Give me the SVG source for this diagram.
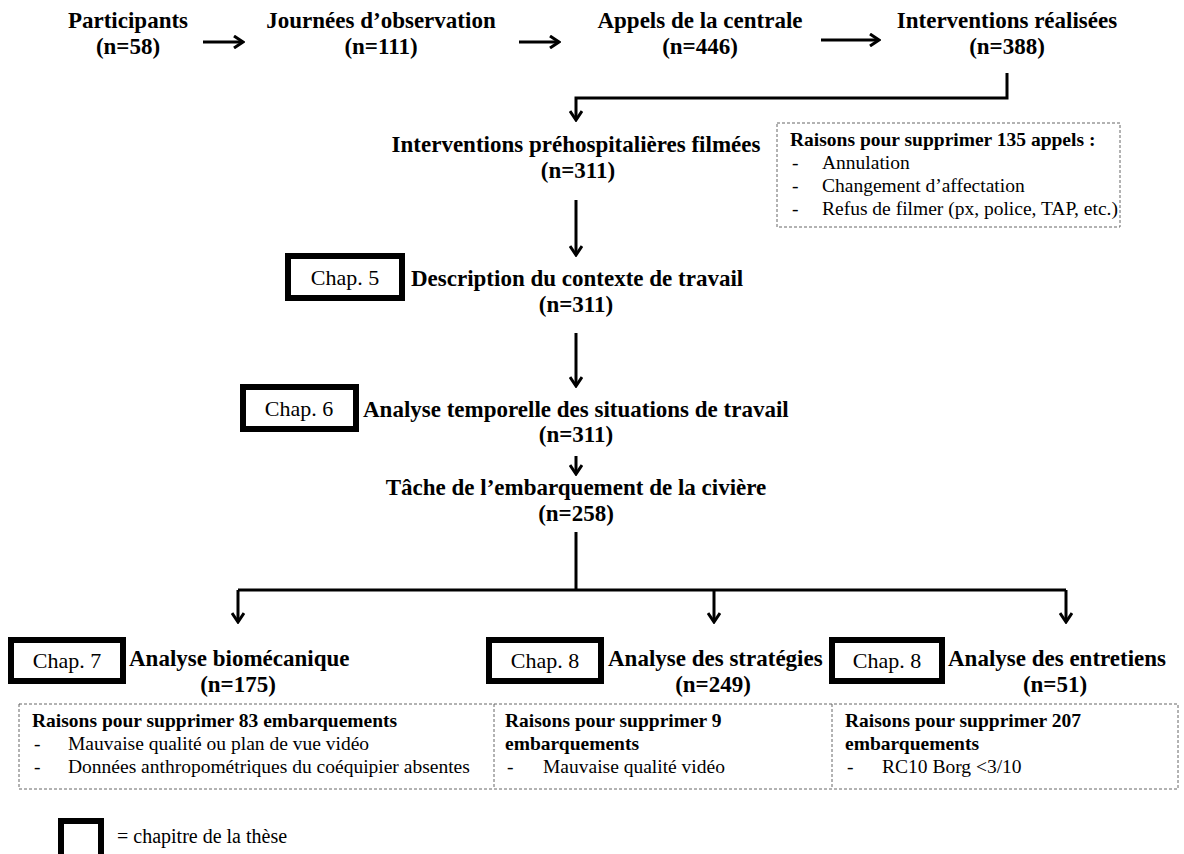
<svg xmlns="http://www.w3.org/2000/svg" width="1184" height="854" viewBox="0 0 1184 854">
  <style>
    text { font-family: "Liberation Serif", "Times New Roman", serif; fill: #000; }
    .main { font-size: 23px; font-weight: bold; }
    .mid { text-anchor: middle; }
    .chap { font-size: 22px; text-anchor: middle; }
    .chapbox { fill: #fff; stroke: #000; stroke-width: 6; }
    .note { fill: none; stroke: #666; stroke-width: 1; stroke-dasharray: 3 2; }
    .nt { font-size: 19.5px; font-weight: bold; }
    .ni { font-size: 19.5px; }
    .flow { fill: none; stroke: #000; stroke-width: 3; marker-end: url(#head); }
    .link { fill: none; stroke: #000; stroke-width: 3; }
  </style>
  <defs>
    <marker id="head" viewBox="0 0 12 14" refX="10" refY="7" markerWidth="12" markerHeight="14" markerUnits="userSpaceOnUse" orient="auto">
      <path d="M1,1 L10,7 L1,13" fill="none" stroke="#000" stroke-width="3"/>
    </marker>
  </defs>

  <rect width="1184" height="854" fill="#fff"/>

  <!-- top row -->
  <g id="participants">
    <text class="main mid" x="128" y="28">Participants</text>
    <text class="main mid" x="128" y="54">(n=58)</text>
  </g>
  <g id="journees">
    <text class="main mid" x="381" y="28">Journées d’observation</text>
    <text class="main mid" x="381" y="54">(n=111)</text>
  </g>
  <g id="appels">
    <text class="main mid" x="700" y="28">Appels de la centrale</text>
    <text class="main mid" x="700" y="54">(n=446)</text>
  </g>
  <g id="interventions">
    <text class="main mid" x="1007" y="28">Interventions réalisées</text>
    <text class="main mid" x="1007" y="54">(n=388)</text>
  </g>

  <g id="filmees">
    <text class="main mid" x="576" y="152">Interventions préhospitalières filmées</text>
    <text class="main mid" x="578" y="178">(n=311)</text>
  </g>

  <g id="raisons-appels">
    <rect class="note" x="777" y="123" width="343" height="104"/>
    <text class="nt" x="790" y="146">Raisons pour supprimer 135 appels :</text>
    <text class="ni" x="792" y="169">-</text>
    <text class="ni" x="822" y="169">Annulation</text>
    <text class="ni" x="792" y="192">-</text>
    <text class="ni" x="822" y="192">Changement d’affectation</text>
    <text class="ni" x="792" y="215">-</text>
    <text class="ni" x="822" y="215">Refus de filmer (px, police, TAP, etc.)</text>
  </g>

  <g id="contexte">
    <rect class="chapbox" x="288" y="256" width="114" height="42"/>
    <text class="chap" x="345" y="285">Chap. 5</text>
    <text class="main" x="411" y="286">Description du contexte de travail</text>
    <text class="main mid" x="576" y="312">(n=311)</text>
  </g>

  <g id="temporelle">
    <rect class="chapbox" x="243" y="387" width="113" height="42"/>
    <text class="chap" x="299" y="416">Chap. 6</text>
    <text class="main" x="363" y="417">Analyse temporelle des situations de travail</text>
    <text class="main mid" x="576" y="442">(n=311)</text>
  </g>

  <g id="embarquement">
    <text class="main mid" x="576" y="495">Tâche de l’embarquement de la civière</text>
    <text class="main mid" x="576" y="521">(n=258)</text>
  </g>

  <g id="biomecanique">
    <rect class="chapbox" x="11" y="640" width="112" height="41"/>
    <text class="chap" x="67" y="668">Chap. 7</text>
    <text class="main" x="129" y="666">Analyse biomécanique</text>
    <text class="main mid" x="238" y="692">(n=175)</text>
  </g>

  <g id="strategies">
    <rect class="chapbox" x="489" y="640" width="112" height="41"/>
    <text class="chap" x="545" y="668">Chap. 8</text>
    <text class="main" x="608" y="666">Analyse des stratégies</text>
    <text class="main mid" x="713" y="692">(n=249)</text>
  </g>

  <g id="entretiens">
    <rect class="chapbox" x="832" y="640" width="110" height="41"/>
    <text class="chap" x="887" y="668">Chap. 8</text>
    <text class="main" x="948" y="666">Analyse des entretiens</text>
    <text class="main mid" x="1055" y="692">(n=51)</text>
  </g>

  <g id="raisons-embarquements">
    <rect class="note" x="19" y="704" width="1159" height="85"/>
    <line class="note" x1="494" y1="704" x2="494" y2="789"/>
    <line class="note" x1="832" y1="704" x2="832" y2="789"/>
    <text class="nt" x="32" y="727">Raisons pour supprimer 83 embarquements</text>
    <text class="ni" x="34" y="750">-</text>
    <text class="ni" x="68" y="750">Mauvaise qualité ou plan de vue vidéo</text>
    <text class="ni" x="34" y="773">-</text>
    <text class="ni" x="68" y="773">Données anthropométriques du coéquipier absentes</text>
    <text class="nt" x="505" y="727">Raisons pour supprimer 9</text>
    <text class="nt" x="505" y="750">embarquements</text>
    <text class="ni" x="507" y="773">-</text>
    <text class="ni" x="543" y="773">Mauvaise qualité vidéo</text>
    <text class="nt" x="845" y="727">Raisons pour supprimer 207</text>
    <text class="nt" x="845" y="750">embarquements</text>
    <text class="ni" x="847" y="773">-</text>
    <text class="ni" x="882" y="773">RC10 Borg &lt;3/10</text>
  </g>

  <g id="legende">
    <rect class="chapbox" x="61" y="821" width="40" height="40"/>
    <text class="ni" x="117" y="843" style="font-size:20px">= chapitre de la thèse</text>
  </g>

  <g id="connectors">
    <line class="flow" x1="203" y1="42" x2="243" y2="42"/>
    <line class="flow" x1="519" y1="42" x2="559" y2="42"/>
    <line class="flow" x1="821" y1="40" x2="879" y2="40"/>
    <path class="flow" d="M1007,73 V98 H576 V120"/>
    <line class="flow" x1="576" y1="200" x2="576" y2="255"/>
    <line class="flow" x1="576" y1="333" x2="576" y2="386"/>
    <line class="flow" x1="576" y1="456" x2="576" y2="474"/>
    <path class="link" d="M576,532 V590"/>
    <path class="link" d="M238,590 H1066"/>
    <line class="flow" x1="238" y1="590" x2="238" y2="622"/>
    <line class="flow" x1="714" y1="590" x2="714" y2="622"/>
    <line class="flow" x1="1066" y1="590" x2="1066" y2="622"/>
  </g>
</svg>
